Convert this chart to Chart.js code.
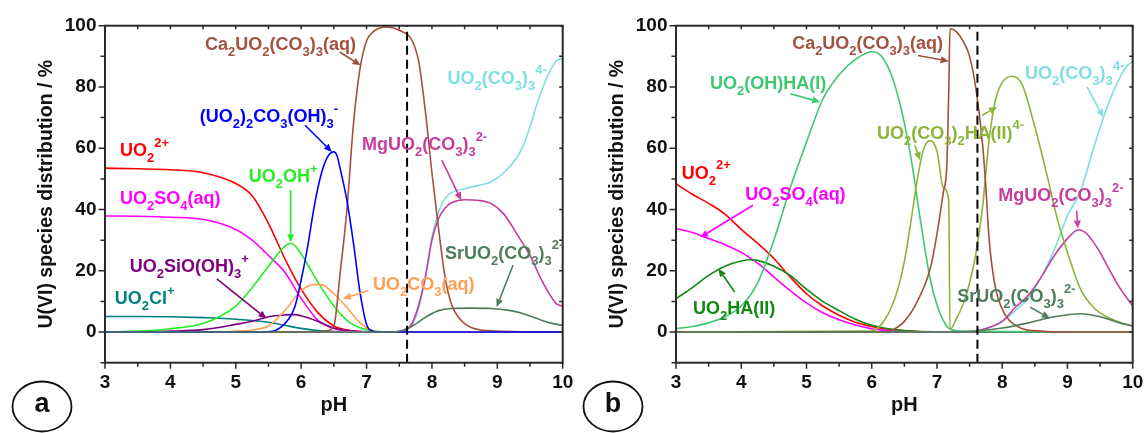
<!DOCTYPE html>
<html>
<head>
<meta charset="utf-8">
<script src="https://cdn.jsdelivr.net/npm/chart.js@4/dist/chart.umd.min.js"></script>
<style>
  body { margin: 0; background: #fff; width: 1147px; height: 433px; overflow: hidden; position: relative; }
  .box { position: absolute; top: 0; height: 433px; }
  #boxA { left: 0; width: 600px; }
  #boxB { left: 570px; width: 577px; }
</style>
</head>
<body>
<div class="box" id="boxA"><canvas id="chartA"></canvas></div>
<div class="box" id="boxB"><canvas id="chartB"></canvas></div>
<script>
// ---- data (pH, % of U(VI)) ----
var markerPh = [7.62, 7.62];
var markerPct = [-10, 100];

// panel a
var aUO2ph = [3, 3.5, 4, 4.5, 5, 5.25, 5.5, 5.75, 6, 6.25, 6.5, 6.75, 7, 7.5, 10];
var aUO2 = [53.5, 53.3, 53, 52, 48.5, 44.5, 35.5, 24, 14, 6.5, 2, 0.5, 0.1, 0, 0];
var aSO4ph = [3, 3.5, 4, 4.5, 5, 5.25, 5.5, 5.75, 6, 6.25, 6.5, 6.75, 7, 7.5, 10];
var aSO4 = [37.9, 37.8, 37.5, 36.8, 33.5, 30, 25, 19.5, 11, 4, 1.2, 0.3, 0.1, 0, 0];
var aOHph = [3, 3.5, 4, 4.5, 5, 5.25, 5.5, 5.75, 5.85, 6, 6.25, 6.5, 6.75, 7, 7.25, 10];
var aOH = [0, 0.3, 1.1, 2.8, 8.5, 14.5, 21.5, 28, 29, 25.5, 16.5, 8.5, 3, 0.8, 0.1, 0];
var aDimerPh = [3, 5.4, 5.6, 5.8, 5.9, 6.0, 6.1, 6.2, 6.3, 6.4, 6.5, 6.55, 6.6, 6.7, 6.8, 6.9, 7.0, 7.1, 7.2, 10];
var aDimer = [0, 0, 0.5, 4, 8, 17, 28, 41, 51, 57, 58.8, 57.5, 53, 43, 29, 13, 2.5, 0.3, 0, 0];
var aCaPh = [3, 6.2, 6.4, 6.5, 6.6, 6.7, 6.8, 6.9, 7.0, 7.1, 7.3, 7.5, 7.7, 7.8, 7.9, 8.0, 8.1, 8.2, 8.3, 8.4, 8.6, 9, 10];
var aCa = [0, 0, 0.5, 2, 20, 40, 68, 86, 95, 98, 99.6, 98.5, 95, 88, 72, 52, 34, 18, 9, 5, 1.5, 0.3, 0];
var aMgPh = [3, 7.5, 7.6, 7.7, 7.8, 7.9, 8.0, 8.1, 8.2, 8.3, 8.5, 8.7, 8.9, 9.1, 9.3, 9.5, 9.7, 9.9, 10];
var aMg = [0, 0, 0.5, 3, 9, 18, 30, 37, 40.5, 42.2, 43.2, 43, 42, 38.5, 32, 25, 16, 9.3, 8.5];
var aTriPh = [3, 7.5, 7.6, 7.7, 7.8, 7.9, 8.0, 8.1, 8.2, 8.3, 8.5, 8.7, 8.9, 9.1, 9.3, 9.4, 9.5, 9.6, 9.7, 9.8, 9.9, 10];
var aTri = [0, 0, 0.5, 2.5, 8, 18, 31, 39, 43.5, 45.5, 46.8, 47.8, 49, 52, 57, 61, 67, 74, 80, 85, 88.5, 89.5];
var aSrPh = [3, 7.3, 7.5, 7.7, 7.9, 8.1, 8.3, 8.6, 8.9, 9.2, 9.4, 9.6, 9.8, 10];
var aSr = [0, 0, 0.3, 2, 4.8, 7, 7.7, 7.8, 7.7, 7, 6, 4.5, 3, 2.2];
var aCO3ph = [3, 4.8, 5.0, 5.25, 5.5, 5.75, 6.0, 6.2, 6.3, 6.5, 6.7, 6.9, 7.1, 7.3, 10];
var aCO3 = [0, 0, 0.3, 0.7, 2, 7, 13.5, 15.5, 15.5, 12.5, 8, 3, 0.4, 0, 0];
var aSiPh = [3, 3.5, 4, 4.5, 5, 5.25, 5.5, 5.75, 5.9, 6.0, 6.25, 6.5, 6.75, 7, 10];
var aSi = [0, 0.1, 0.3, 0.8, 2.5, 3.5, 5, 5.6, 5.7, 5.3, 3.5, 1.3, 0.4, 0.1, 0];
var aClPh = [3, 3.5, 4, 4.5, 5, 5.5, 5.75, 6, 6.25, 6.5, 7, 10];
var aCl = [5.1, 5.1, 5.0, 4.7, 4.2, 3.2, 2.2, 1.2, 0.5, 0.2, 0, 0];

// panel b
var bUO2ph = [3, 3.25, 3.5, 3.75, 4, 4.25, 4.5, 4.75, 5, 5.25, 5.5, 5.75, 6, 6.25, 6.5, 7, 10];
var bUO2 = [48.4, 45, 42, 38.5, 33.5, 29, 24, 18, 12.5, 8.5, 5.5, 3.2, 1.8, 0.9, 0.4, 0, 0];
var bSO4ph = [3, 3.25, 3.5, 3.75, 4, 4.25, 4.5, 4.75, 5, 5.25, 5.5, 5.75, 6, 6.25, 6.5, 7, 10];
var bSO4 = [33.8, 32.5, 30.5, 28.5, 26, 22.5, 18, 13.5, 9.5, 6.3, 4, 2.3, 1.1, 0.5, 0.2, 0, 0];
var bHA2ph = [3, 3.25, 3.5, 3.75, 4, 4.15, 4.25, 4.5, 4.75, 5, 5.25, 5.5, 5.75, 6, 6.25, 6.5, 7, 10];
var bHA2 = [10.9, 14.5, 18.5, 21.5, 23.2, 23.6, 23.4, 21.5, 18.5, 14, 10, 7, 4.2, 2.2, 1.1, 0.5, 0.1, 0];
var bOHHAph = [3, 3.25, 3.5, 3.75, 4, 4.25, 4.5, 4.75, 5, 5.25, 5.5, 5.75, 6, 6.15, 6.3, 6.45, 6.6, 6.75, 6.9, 7.05, 7.2, 7.4, 10];
var bOHHA = [1.1, 1.8, 3, 5, 8.5, 16, 30, 47, 62, 76, 84, 89, 91.5, 90, 84, 73, 57, 36, 17, 6, 1, 0.3, 0];
var bCaPh = [3, 6.2, 6.3, 6.5, 6.7, 6.9, 7.0, 7.1, 7.15, 7.18, 7.2, 7.3, 7.4, 7.5, 7.6, 7.7, 7.75, 7.8, 7.9, 8.0, 8.1, 8.3, 8.6, 9, 10];
var bCa = [0, 0, 0.5, 3.5, 10, 21, 32, 46, 54, 78, 99, 98, 95, 90, 79, 61, 47, 30, 14, 7.5, 4, 1.2, 0.3, 0, 0];
var bCO3HAph = [3, 6.0, 6.1, 6.2, 6.3, 6.4, 6.5, 6.6, 6.7, 6.8, 6.9, 7.0, 7.1, 7.18, 7.2, 7.3, 7.4, 7.5, 7.6, 7.7, 7.8, 7.9, 8.0, 8.15, 8.3, 8.5, 8.7, 8.85, 9.0, 9.2, 9.4, 9.6, 9.8, 10];
var bCO3HA = [0, 0.3, 1.5, 4, 8, 14, 23, 36, 50, 60, 62.5, 59, 47, 43, 0.8, 4.5, 9, 16, 26, 41, 63, 76, 81.5, 83.5, 81, 67, 50, 36.5, 26, 14, 8, 5, 3.2, 2];
var bTriPh = [3, 7.4, 7.6, 7.8, 8.0, 8.2, 8.4, 8.6, 8.8, 9.0, 9.2, 9.4, 9.6, 9.8, 9.9, 10];
var bTri = [0, 0, 0.3, 1.5, 3.5, 7, 11, 18, 27, 38, 46, 60, 73, 83, 86.5, 88.5];
var bMgPh = [3, 7.4, 7.6, 7.8, 8.0, 8.2, 8.4, 8.6, 8.8, 9.0, 9.17, 9.3, 9.5, 9.6, 9.8, 10];
var bMg = [0, 0, 0.3, 1.5, 3.5, 8, 12, 18, 25, 30.5, 33.4, 32, 26, 22, 14.5, 8.5];
var bSrPh = [3, 7.4, 7.6, 8.0, 8.4, 8.8, 9.2, 9.5, 9.8, 10];
var bSr = [0, 0, 0.3, 1.3, 3, 5, 6, 5, 3, 2];

var FAM = '"Liberation Sans", Arial, Helvetica, sans-serif';
var C = {
  red: '#ff0000', mag: '#ff00ff', lime: '#22ee22', blue: '#0000ff', brown: '#a4503f',
  mg: '#c83c9c', cyan: '#7fdfdf', sr: '#4f7d5c', orange: '#ffa054', purple: '#800080',
  teal: '#008080', ohha: '#3cc870', olive: '#8cb43a', ha2: '#128a12'
};

// annotation labels: left edge pH, baseline %, arrows as [pH1,%1,pH2,%2]
var notesA = [
  {t: 'Ca_2UO_2(CO_3)_3(aq)', c: C.brown, x: 4.53, y: 92.0, arrows: [[6.59, 91.4, 6.91, 87.1]]},
  {t: '(UO_2)_2CO_3(OH)_3^-', c: C.blue, x: 4.45, y: 68.5, arrows: [[6.06, 67.5, 6.47, 58.8]]},
  {t: 'UO_2^{2+}', c: C.red, x: 3.23, y: 57.4, arrows: []},
  {t: 'UO_2OH^+', c: C.lime, x: 5.20, y: 48.9, arrows: [[5.84, 46.3, 5.84, 29.3]]},
  {t: 'UO_2SO_4(aq)', c: C.mag, x: 3.23, y: 41.7, arrows: []},
  {t: 'UO_2SiO(OH)_3^+', c: C.purple, x: 3.38, y: 19.6, arrows: [[4.71, 17.4, 5.47, 4.4]]},
  {t: 'UO_2Cl^+', c: C.teal, x: 3.15, y: 9.0, arrows: []},
  {t: 'UO_2CO_3(aq)', c: C.orange, x: 7.10, y: 13.8, arrows: [[7.03, 13.6, 6.64, 10.9]]},
  {t: 'MgUO_2(CO_3)_3^{2-}', c: C.mg, x: 6.93, y: 59.3, arrows: [[8.15, 56.1, 8.45, 43.0]]},
  {t: 'UO_2(CO_3)_3^{4-}', c: C.cyan, x: 8.24, y: 81.1, arrows: []},
  {t: 'SrUO_2(CO_3)_3^{2-}', c: C.sr, x: 8.20, y: 24.0, arrows: [[9.24, 21.8, 8.99, 8.2]]}
];
var notesB = [
  {t: 'Ca_2UO_2(CO_3)_3(aq)', c: C.brown, x: 4.78, y: 92.5, arrows: [[6.71, 90.3, 7.18, 88.4]]},
  {t: 'UO_2(OH)HA(I)', c: C.ohha, x: 3.52, y: 79.5, arrows: [[4.75, 77.8, 5.21, 75.1]]},
  {t: 'UO_2^{2+}', c: C.red, x: 3.09, y: 50.1, arrows: []},
  {t: 'UO_2SO_4(aq)', c: C.mag, x: 4.06, y: 43.0, arrows: [[4.18, 41.4, 3.37, 30.9]]},
  {t: 'UO_2HA(II)', c: C.ha2, x: 3.26, y: 6.0, arrows: [[3.90, 13.1, 3.65, 20.7]]},
  {t: 'UO_2(CO_3)_2HA(II)^{4-}', c: C.olive, x: 6.08, y: 63.1, arrows: [[6.66, 61.0, 6.74, 56.1], [7.69, 70.7, 7.92, 73.5]]},
  {t: 'UO_2(CO_3)_3^{4-}', c: C.cyan, x: 8.35, y: 82.5, arrows: [[9.30, 80.0, 9.55, 70.1]]},
  {t: 'MgUO_2(CO_3)_3^{2-}', c: C.mg, x: 7.94, y: 42.7, arrows: [[9.14, 39.7, 9.16, 33.8]]},
  {t: 'SrUO_2(CO_3)_3^{2-}', c: C.sr, x: 7.31, y: 9.8, arrows: [[8.43, 8.1, 8.73, 4.5]]}
];

function pts(ph, v) {
  return ph.map(function (p, i) { return {x: p, y: v[i]}; });
}
function line(label, ph, v, color, extra) {
  return Object.assign({
    label: label, data: pts(ph, v), borderColor: color, borderWidth: 1.6,
    pointRadius: 0, fill: false, cubicInterpolationMode: 'monotone'
  }, extra || {});
}
function marker() {
  return line('pH 7.62', markerPh, markerPct, '#000', {borderDash: [9, 5], borderWidth: 2, cubicInterpolationMode: 'default', tension: 0});
}

// split "UO_2^{2+}" into [text, 0 normal | 1 sub | -1 sup]
function parts(s) {
  var out = [], buf = '', i = 0;
  while (i < s.length) {
    var ch = s[i];
    if (ch === '_' || ch === '^') {
      if (buf) { out.push([buf, 0]); buf = ''; }
      var t;
      if (s[i + 1] === '{') { var j = s.indexOf('}', i); t = s.slice(i + 2, j); i = j + 1; }
      else { t = s[i + 1]; i += 2; }
      out.push([t, ch === '_' ? 1 : -1]);
    } else { buf += ch; i++; }
  }
  if (buf) out.push([buf, 0]);
  return out;
}
function rich(ctx, s, x, y, color) {
  ctx.fillStyle = color;
  ctx.textAlign = 'left';
  ctx.textBaseline = 'alphabetic';
  parts(s).forEach(function (p) {
    ctx.font = (p[1] ? 'bold 13px ' : 'bold 18px ') + FAM;
    var dy = p[1] === 1 ? 6 : (p[1] === -1 ? -9.5 : 0);
    ctx.fillText(p[0], x, y + dy);
    x += ctx.measureText(p[0]).width;
  });
}
function arrow(ctx, x1, y1, x2, y2, color) {
  var a = Math.atan2(y2 - y1, x2 - x1), L = 8, W = 3.5;
  var bx = x2 - L * Math.cos(a), by = y2 - L * Math.sin(a);
  ctx.strokeStyle = color; ctx.fillStyle = color; ctx.lineWidth = 1.6;
  ctx.beginPath(); ctx.moveTo(x1, y1); ctx.lineTo(bx, by); ctx.stroke();
  ctx.beginPath();
  ctx.moveTo(x2, y2);
  ctx.lineTo(bx + W * Math.sin(a), by - W * Math.cos(a));
  ctx.lineTo(bx - W * Math.sin(a), by + W * Math.cos(a));
  ctx.closePath(); ctx.fill();
}

function deco(notes, letter) {
  return {
    id: 'deco' + letter,
    afterDraw: function (chart) {
      var ctx = chart.ctx, xs = chart.scales.x, ys = chart.scales.y, ca = chart.chartArea;
      ctx.save();
      // frame
      ctx.strokeStyle = '#2a2a2a'; ctx.lineWidth = 2;
      ctx.strokeRect(ca.left, ca.top, ca.right - ca.left, ca.bottom - ca.top);
      // ticks: out on left/bottom, in on top/right
      ctx.lineWidth = 1.5;
      ctx.beginPath();
      for (var p = 3; p <= 10.001; p += 0.5) {
        var px = xs.getPixelForValue(p), major = Math.abs(p - Math.round(p)) < 1e-6;
        ctx.moveTo(px, ca.bottom); ctx.lineTo(px, ca.bottom + (major ? 6 : 4));
        ctx.moveTo(px, ca.top); ctx.lineTo(px, ca.top + 3.5);
      }
      for (var v = -10; v <= 100; v += 10) {
        var py = ys.getPixelForValue(v), maj = v % 20 === 0;
        ctx.moveTo(ca.left - (maj ? 6.5 : 4.5), py); ctx.lineTo(ca.left, py);
        ctx.moveTo(ca.right - 3.5, py); ctx.lineTo(ca.right, py);
      }
      ctx.stroke();
      // axis titles
      ctx.fillStyle = '#111';
      ctx.font = 'bold 19.5px ' + FAM;
      ctx.textAlign = 'center'; ctx.textBaseline = 'middle';
      ctx.save();
      ctx.translate(ca.left - 58, (ca.top + ca.bottom) / 2);
      ctx.rotate(-Math.PI / 2);
      ctx.fillText('U(VI) species distribution / %', 0, 0);
      ctx.restore();
      ctx.font = 'bold 20px ' + FAM;
      ctx.fillText('pH', (ca.left + ca.right) / 2, 405);
      // panel letter
      ctx.strokeStyle = '#111'; ctx.lineWidth = 1.8;
      ctx.beginPath();
      ctx.ellipse(ca.left - 63, 406.5, 29.5, 25, 0, 0, Math.PI * 2);
      ctx.stroke();
      ctx.font = 'bold 27px ' + FAM;
      ctx.fillText(letter, ca.left - 63, 405);
      // species labels and arrows
      notes.forEach(function (n) {
        rich(ctx, n.t, xs.getPixelForValue(n.x), ys.getPixelForValue(n.y), n.c);
        n.arrows.forEach(function (a) {
          arrow(ctx, xs.getPixelForValue(a[0]), ys.getPixelForValue(a[1]),
            xs.getPixelForValue(a[2]), ys.getPixelForValue(a[3]), n.c);
        });
      });
      ctx.restore();
    }
  };
}

function makeChart(id, datasets, notes, letter, axisW, rightPad) {
  var tickFont = {family: FAM, size: 19, weight: 'bold'};
  return new Chart(document.getElementById(id), {
    type: 'line',
    data: {datasets: datasets},
    options: {
      responsive: true, maintainAspectRatio: false, animation: false,
      layout: {padding: {top: 25.7, right: rightPad, left: 0, bottom: 0}},
      plugins: {legend: {display: false}, tooltip: {enabled: false}},
      scales: {
        x: {
          type: 'linear', min: 3, max: 10,
          ticks: {stepSize: 1, font: tickFont, color: '#111', padding: 8.5, maxRotation: 0, autoSkip: false},
          grid: {display: false, drawTicks: false},
          border: {display: false},
          afterFit: function (s) { s.height = 70.3; s.paddingLeft = 0; s.paddingRight = 0; }
        },
        y: {
          type: 'linear', min: -10, max: 100,
          ticks: {
            stepSize: 10, font: tickFont, color: '#111', padding: 8.5, autoSkip: false,
            callback: function (v) { return (v >= 0 && v % 20 === 0) ? v : ''; }
          },
          grid: {display: false, drawTicks: false},
          border: {display: false},
          afterFit: function (s) { s.width = axisW; s.paddingTop = 0; s.paddingBottom = 0; }
        }
      }
    },
    plugins: [deco(notes, letter)]
  });
}

// first dataset is drawn on top
makeChart('chartA', [
  marker(),
  line('SrUO2(CO3)3 2-', aSrPh, aSr, C.sr),
  line('(UO2)2CO3(OH)3 -', aDimerPh, aDimer, C.blue),
  line('Ca2UO2(CO3)3(aq)', aCaPh, aCa, C.brown),
  line('MgUO2(CO3)3 2-', aMgPh, aMg, C.mg),
  line('UO2(CO3)3 4-', aTriPh, aTri, C.cyan),
  line('UO2CO3(aq)', aCO3ph, aCO3, C.orange),
  line('UO2OH+', aOHph, aOH, C.lime),
  line('UO2SiO(OH)3+', aSiPh, aSi, C.purple),
  line('UO2Cl+', aClPh, aCl, C.teal),
  line('UO2SO4(aq)', aSO4ph, aSO4, C.mag),
  line('UO2 2+', aUO2ph, aUO2, C.red)
], notesA, 'a', 105, 37.3);

makeChart('chartB', [
  marker(),
  line('SrUO2(CO3)3 2-', bSrPh, bSr, C.sr),
  line('Ca2UO2(CO3)3(aq)', bCaPh, bCa, C.brown),
  line('UO2(CO3)2HA(II) 4-', bCO3HAph, bCO3HA, C.olive),
  line('MgUO2(CO3)3 2-', bMgPh, bMg, C.mg),
  line('UO2(CO3)3 4-', bTriPh, bTri, C.cyan),
  line('UO2(OH)HA(I)', bOHHAph, bOHHA, C.ohha),
  line('UO2HA(II)', bHA2ph, bHA2, C.ha2),
  line('UO2SO4(aq)', bSO4ph, bSO4, C.mag),
  line('UO2 2+', bUO2ph, bUO2, C.red)
], notesB, 'b', 106, 14.3);
</script>
</body>
</html>
